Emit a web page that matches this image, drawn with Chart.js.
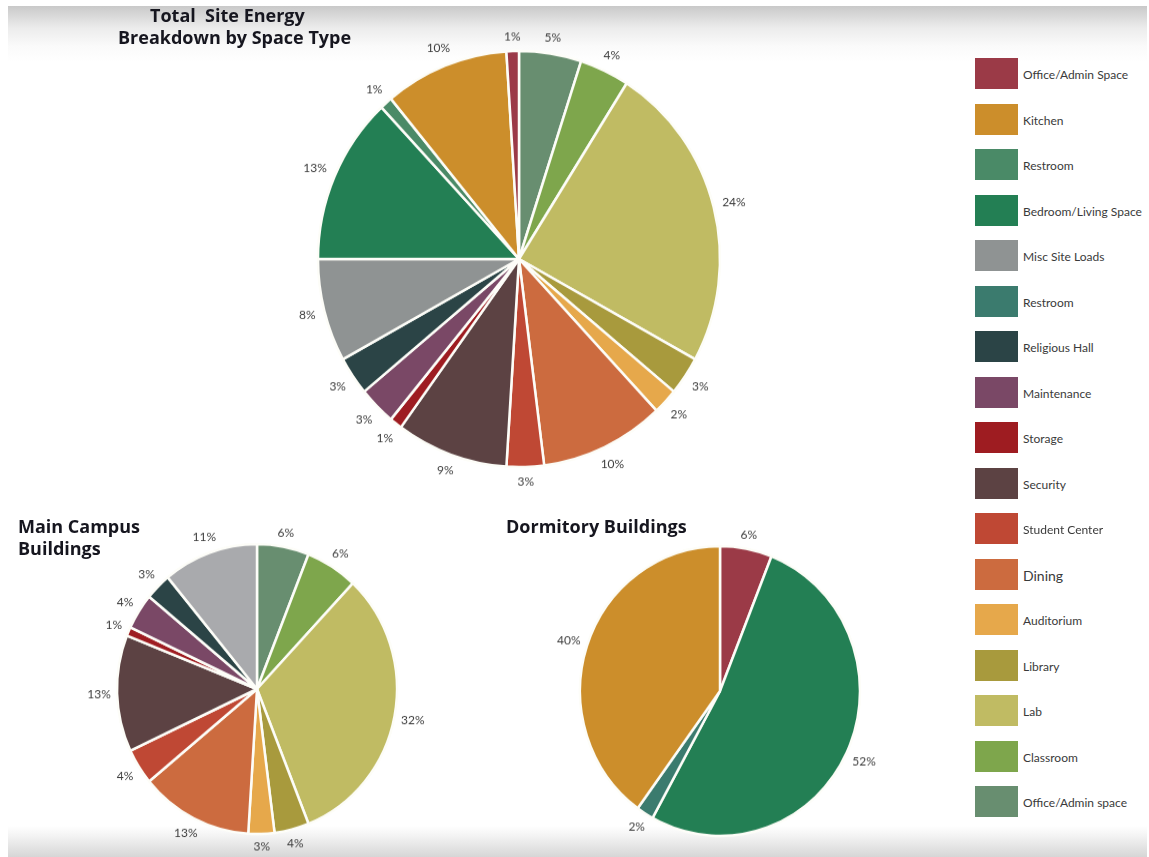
<!DOCTYPE html>
<html>
<head>
<meta charset="utf-8">
<script src="https://cdn.jsdelivr.net/npm/chart.js@4.4.1/dist/chart.umd.min.js"></script>
<style>
  html, body { margin: 0; padding: 0; background: #fff; }
  body { width: 1149px; height: 857px; position: relative; overflow: hidden; font-family: 'Lato', 'DejaVu Sans', sans-serif; }
  #frame {
    position: absolute; left: 8px; top: 6px; width: 1139px; height: 851px;
    background: linear-gradient(to bottom, #c9c9c9 0px, #ececec 22px, #fafafa 40px, #fff 56px, #fff 820px, #f3f3f3 830px, #d6d6d6 851px);
  }
  .pie { position: absolute; transform: scaleY(1.035); }
  .title { position: absolute; font-family: 'Open Sans', sans-serif; font-weight: 700; font-size: 18px; color: #16161f; line-height: 22px; white-space: pre; }
  #legend { position: absolute; left: 975px; top: 58px; }
  .item { position: relative; height: 45.5px; }
  .swatch { position: absolute; left: 0; top: 0; width: 43px; height: 31px; }
  .item span { position: absolute; left: 48px; top: 16px; transform: translateY(-50%); font-size: 12px; color: #3a3a3a; white-space: nowrap; }
</style>
</head>
<body>
<div id="frame"></div>
<div class="pie" style="left:269px; top:9px; width:500px; height:500px; transform-origin:250px 250px;"><canvas id="total" width="500" height="500"></canvas></div>
<div class="pie" style="left:87px; top:519px; width:340px; height:340px; transform-origin:170px 170px;"><canvas id="campus" width="340" height="340"></canvas></div>
<div class="pie" style="left:550px; top:521px; width:340px; height:340px; transform-origin:170px 170px;"><canvas id="dorm" width="340" height="340"></canvas></div>
<div class="title" style="left:150px; top:4px;">Total  Site Energy</div>
<div class="title" style="left:118px; top:26px;">Breakdown by Space Type</div>
<div class="title" style="left:18px; top:515px;">Main Campus
Buildings</div>
<div class="title" style="left:506px; top:515px;">Dormitory Buildings</div>
<div id="legend"></div>
<script>
// legend categories and colours
const categories = ['Office/Admin Space', 'Kitchen', 'Restroom', 'Bedroom/Living Space', 'Misc Site Loads', 'Restroom',
  'Religious Hall', 'Maintenance', 'Storage', 'Security', 'Student Center', 'Dining', 'Auditorium', 'Library', 'Lab',
  'Classroom', 'Office/Admin space'];
const categoryColors = ['#9b3a47', '#cc8e2b', '#4a8a67', '#237f54', '#8f9393', '#3b7b6e', '#2b4446', '#7a4866', '#9e1c21',
  '#5c4243', '#bf4834', '#cc6b3f', '#e6a84b', '#a89a3d', '#c0bb63', '#7ea64c', '#688e70'];

// Total site energy (clockwise from 12 o'clock)
const totalLabels = ['Office/Admin space', 'Classroom', 'Lab', 'Library', 'Auditorium', 'Dining', 'Student Center', 'Security',
  'Storage', 'Maintenance', 'Religious Hall', 'Misc Site Loads', 'Bedroom/Living Space', 'Restroom', 'Kitchen', 'Office/Admin Space'];
const totalValues = [5, 4, 24, 3, 2, 10, 3, 9, 1, 3, 3, 8, 13, 1, 10, 1];
const totalColors = ['#688e70', '#7ea64c', '#c0bb63', '#a89a3d', '#e6a84b', '#cc6b3f', '#bf4834', '#5c4243',
  '#9e1c21', '#7a4866', '#2b4446', '#8f9393', '#237f54', '#4a8a67', '#cc8e2b', '#9b3a47'];

// Main campus buildings
const campusLabels = ['Office/Admin space', 'Classroom', 'Lab', 'Library', 'Auditorium', 'Dining', 'Student Center', 'Security',
  'Storage', 'Maintenance', 'Religious Hall', 'Misc Site Loads'];
const campusValues = [6, 6, 32, 4, 3, 13, 4, 13, 1, 4, 3, 11];
const campusColors = ['#688e70', '#7ea64c', '#c0bb63', '#a89a3d', '#e6a84b', '#cc6b3f', '#bf4834', '#5c4243',
  '#9e1c21', '#7a4866', '#2b4446', '#a9aaad'];

// Dormitory buildings
const dormLabels = ['Office/Admin Space', 'Bedroom/Living Space', 'Restroom', 'Kitchen'];
const dormValues = [6, 52, 2, 40];
const dormColors = ['#9b3a47', '#237f54', '#3b7b6e', '#cc8e2b'];

// legend
const legendEl = document.getElementById('legend');
legendEl.innerHTML = categories.map((c, i) =>
  `<div class="item"><div class="swatch" style="background:${categoryColors[i]}"></div><span${c === 'Dining' ? ' style="font-size:14px"' : ''}>${c}</span></div>`
).join('');

// percent labels just outside each slice (label box kept a fixed gap from the rim)
const outsideLabels = {
  id: 'outsideLabels',
  afterDatasetsDraw(chart, args, opts) {
    const ctx = chart.ctx;
    const meta = chart.getDatasetMeta(0);
    const values = chart.data.datasets[0].data;
    ctx.save();
    ctx.font = '12px Lato, sans-serif';
    ctx.fillStyle = '#404040';
    ctx.textAlign = 'center';
    ctx.textBaseline = 'middle';
    meta.data.forEach((arc, i) => {
      const p = arc.getProps(['x', 'y', 'startAngle', 'endAngle', 'outerRadius'], true);
      const a = (p.startAngle + p.endAngle) / 2;
      const text = values[i] + '%';
      const halfW = ctx.measureText(text).width / 2;
      const c = Math.cos(a), s = Math.sin(a);
      const r = p.outerRadius + opts.gap + halfW * Math.abs(c) + 6 * Math.abs(s);
      ctx.fillText(text, p.x + c * r, p.y + s * r);
    });
    ctx.restore();
  }
};

function makePie(id, labels, values, colors, radius, gap) {
  return new Chart(document.getElementById(id), {
    type: 'pie',
    data: {
      labels: labels,
      datasets: [{ data: values, backgroundColor: colors, borderColor: '#fdfdf8', borderWidth: 2.5 }]
    },
    options: {
      responsive: false,
      animation: false,
      radius: radius,
      plugins: {
        legend: { display: false },
        tooltip: { enabled: false },
        outsideLabels: { gap: gap }
      }
    },
    plugins: [outsideLabels]
  });
}

makePie('total', totalLabels, totalValues, totalColors, 201, 8);
makePie('campus', campusLabels, campusValues, campusColors, 140, 6);
makePie('dorm', dormLabels, dormValues, dormColors, 140, 6);
</script>
</body>
</html>
